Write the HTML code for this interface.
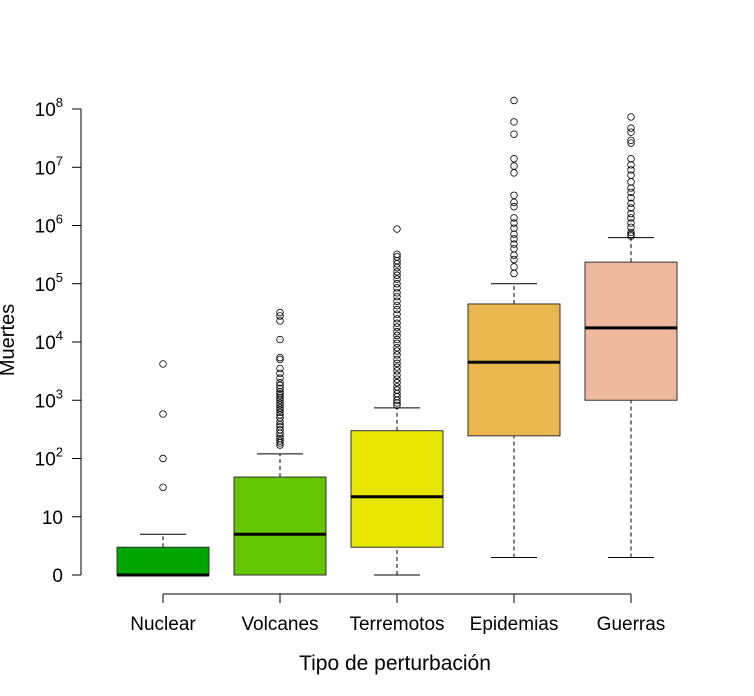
<!DOCTYPE html>
<html><head><meta charset="utf-8"><style>
body{margin:0;background:#fff}
svg{display:block;font-family:"Liberation Sans",Arial,sans-serif}
</style></head><body>
<svg id="chart" width="754" height="696" viewBox="0 0 754 696">
<g id="yaxis"></g>
<g id="xaxis"></g>
<g id="boxes"></g>
<text x="14" y="340" font-size="20" text-anchor="middle" transform="rotate(-90 14 340)">Muertes</text>
<text x="395" y="670" font-size="21" text-anchor="middle">Tipo de perturbación</text>
</svg>
<script>
const categories=["Nuclear","Volcanes","Terremotos","Epidemias","Guerras"];
const colors=["#00A600","#63C600","#E6E600","#EAB64E","#EEB99F"];
const whiskerLow=[1,1,1,2,2];
const q1=[1,1,3,245,1000];
const medians=[1,5,22,4500,17500];
const q3=[3,48,300,45000,235000];
const whiskerHigh=[5,120,740,100000,620000];
const outNuclear=[4200,580,100,32];
const outVolcanes=[32000,28000,23000,11000,5400,5000,3500,2900,2400,2000,1800,1600,1400,1300,1200,1100,1000,900,830,740,680,620,560,500,430,380,350,310,270,240,220,200,185,170];
const outTerremotos=[870000,320000,290000,250000,220000,190000,160000,140000,120000,100000,85000,70000,60000,50000,42000,36000,30000,25000,21000,18000,15000,13000,11000,9500,8000,7000,6000,5000,4300,3700,3200,2700,2300,2000,1700,1500,1300,1150,1000,900,820];
const outEpidemias=[140000000,60000000,37000000,14000000,10500000,8000000,3300000,2500000,2100000,1350000,1100000,900000,710000,590000,480000,400000,310000,260000,195000,150000];
const outGuerras=[73000000,47000000,40000000,29000000,26000000,14000000,11000000,9000000,7300000,5600000,4400000,3700000,3000000,2400000,2000000,1600000,1350000,1100000,930000,760000,700000,660000];
const yTickExp=[0,1,2,3,4,5,6,7,8];
const outliers=[outNuclear,outVolcanes,outTerremotos,outEpidemias,outGuerras];

const NS="http://www.w3.org/2000/svg";
const y=v=>575-Math.log10(v)*58.25;
const x=i=>163+i*117;
const BW=92;
function el(tag,attrs,parent){const e=document.createElementNS(NS,tag);for(const k in attrs)e.setAttribute(k,attrs[k]);parent.appendChild(e);return e;}
const ya=document.getElementById('yaxis'),xa=document.getElementById('xaxis'),bx=document.getElementById('boxes');
el('line',{x1:81,x2:81,y1:y(1e8),y2:y(1),stroke:'#000'},ya);
yTickExp.forEach(e=>{
  const yy=y(Math.pow(10,e));
  const t=el('line',{x1:72,x2:81,y1:yy,y2:yy,stroke:'#000'},ya);
  
  
  const tx=el('text',{x:63,y:yy+7,'font-size':19,'text-anchor':'end'},ya);
  
  
  if(e===0)tx.textContent='0';
  else if(e===1)tx.textContent='10';
  else{const s1=el('tspan',{},tx);s1.textContent='10';const s2=el('tspan',{dy:-9,'font-size':13},tx);s2.textContent=String(e);}
});
el('line',{x1:x(0),x2:x(4),y1:594,y2:594,stroke:'#000'},xa);
categories.forEach((c,i)=>{
  const t=el('line',{x1:x(i),x2:x(i),y1:594,y2:603,stroke:'#000'},xa);
  
  
  const tx=el('text',{x:x(i),y:630,'font-size':19,'text-anchor':'middle'},xa);
  
  
  tx.textContent=c;
  const g=el('g',{},bx);
  
  
  const cx=x(i);
  el('line',{x1:cx,x2:cx,y1:y(q3[i]),y2:y(whiskerHigh[i]),stroke:'#000','stroke-dasharray':'4,3'},g);
  el('line',{x1:cx,x2:cx,y1:y(whiskerLow[i]),y2:y(q1[i]),stroke:'#000','stroke-dasharray':'4,3'},g);
  el('line',{x1:cx-BW/4,x2:cx+BW/4,y1:y(whiskerHigh[i]),y2:y(whiskerHigh[i]),stroke:'#000'},g);
  el('line',{x1:cx-BW/4,x2:cx+BW/4,y1:y(whiskerLow[i]),y2:y(whiskerLow[i]),stroke:'#000'},g);
  el('rect',{x:cx-BW/2,y:y(q3[i]),width:BW,height:y(q1[i])-y(q3[i]),fill:colors[i],stroke:'#333'},g);
  el('line',{x1:cx-BW/2,x2:cx+BW/2,y1:y(medians[i]),y2:y(medians[i]),stroke:'#000','stroke-width':3},g);
  outliers[i].forEach(v=>{
    const p=el('circle',{cx:cx,cy:y(v),r:3.3,fill:'none',stroke:'#000','stroke-width':0.8},g);
    
    
  });
});
</script>
</body></html>
